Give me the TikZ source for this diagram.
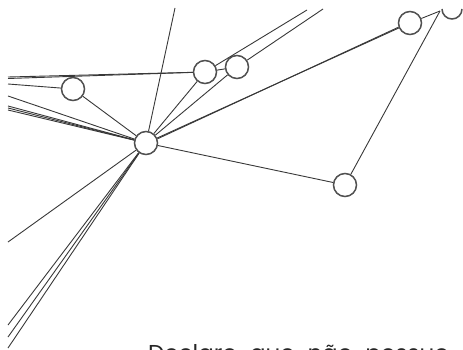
\documentclass[tikz,border=0pt]{standalone}
\usepackage{fontspec}
\setmainfont{Poppins}
\newfontfamily\capfont[WordSpace=2.1]{Poppins}
\usepackage{tikz}
\usetikzlibrary{positioning}
\definecolor{inkgray}{HTML}{383838}
\definecolor{ringgray}{HTML}{505050}

\begin{document}
\begin{tikzpicture}[x=1pt, y=-1pt,
    knot/.style={circle, draw=ringgray, line width=1.5pt, fill=white, minimum size=23pt, inner sep=0pt},
    wire/.style={draw=inkgray, line width=0.9pt}]
  \useasboundingbox (0,0) rectangle (463,350);
  \clip (0,0) rectangle (463,350);

  % Circles
  \node[knot] (hub) at (146,143) {};
  \node[knot] (a) at (73,89) {};
  \node[knot] (b) at (205,72) {};
  \node[knot] (c) at (237,67) {};
  \node[knot] (d) at (410,23) {};
  \node[knot] (e) at (345,185) {};

  % Loose ends
  \coordinate (l1) at (8,77);
  \coordinate (l2) at (8,78.5);
  \coordinate (l3) at (8,84);
  \coordinate (l4) at (8,96);
  \coordinate (l5) at (8,106);
  \coordinate (l6) at (8,108);
  \coordinate (l7) at (8,110);
  \coordinate (top) at (175,8);
  \coordinate (lw) at (8,242);
  \coordinate (s1) at (8,325);
  \coordinate (s2) at (8,337);
  \coordinate (s3) at (8,348);
  \coordinate (bt) at (307,10);
  \coordinate (ct) at (323,9);
  \coordinate (f) at (440,11);

  % Connectors
  \draw[wire] (l1) -- (b);
  \draw[wire] (l2) -- (b);
  \draw[wire] (l3) -- (a);
  \draw[wire] (l4) -- (hub);
  \draw[wire] (l5) -- (hub);
  \draw[wire] (l6) -- (hub);
  \draw[wire] (l7) -- (hub);
  \draw[wire] (hub) -- (top);
  \draw[wire] (hub) -- (a);
  \draw[wire] (hub) -- (b);
  \draw[wire] (hub) -- (c);
  \draw[wire] (hub.20) -- (d.200);
  \draw[wire] (hub.24) -- (d.204);
  \draw[wire] (hub) -- (e);
  \draw[wire] (hub) -- (lw);
  \draw[wire] (hub) -- (s1);
  \draw[wire] (hub) -- (s2);
  \draw[wire] (hub) -- (s3);
  \draw[wire] (b) -- (c);
  \draw[wire] (b) -- (bt);
  \draw[wire] (c) -- (ct);
  \draw[wire] (d) -- (f);
  \draw[wire] (e) -- (f);
  \draw[draw=ringgray, line width=1.5pt] (442,9) arc[start angle=180, end angle=360, radius=10pt];

  % Caption
  \node[anchor=base west, inner sep=0pt, font=\capfont\fontsize{23}{27}\selectfont, text=black!85] (caption) at (148,361) {Declaro que não possuo};
\end{tikzpicture}
\end{document}
